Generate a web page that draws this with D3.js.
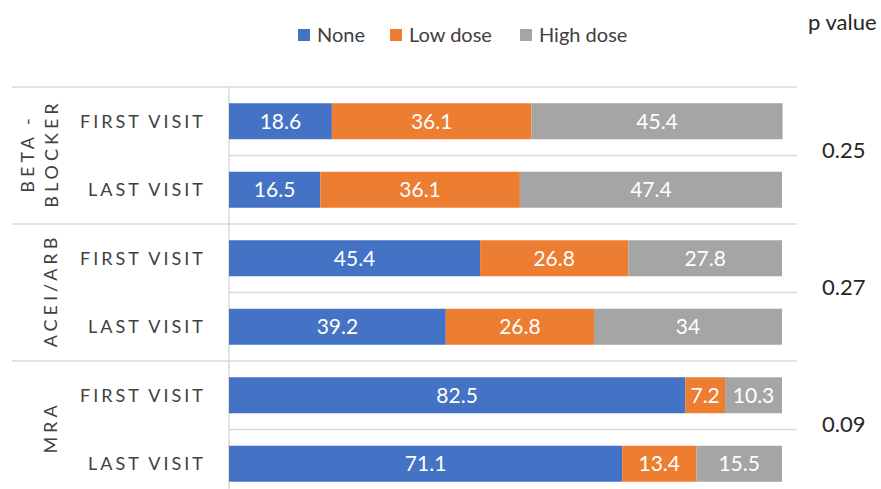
<!DOCTYPE html>
<html>
<head>
<meta charset="utf-8">
<script src="https://cdn.jsdelivr.net/npm/d3@7"></script>
<style>
  html, body { margin: 0; padding: 0; background: #fff; }
  svg { display: block; font-family: Lato, "Open Sans", sans-serif; }
</style>
</head>
<body>
<svg id="chart" width="881" height="489"></svg>
<script>
const groups = ['BETA-BLOCKER', 'ACEI/ARB', 'MRA'];
const groupLines = [['BETA -', 'BLOCKER'], ['ACEI/ARB'], ['MRA']];
const visits = ['FIRST VISIT', 'LAST VISIT'];
const series = ['None', 'Low dose', 'High dose'];
const noneVals = [18.6, 16.5, 45.4, 39.2, 82.5, 71.1];
const lowVals = [36.1, 36.1, 26.8, 26.8, 7.2, 13.4];
const highVals = [45.4, 47.4, 27.8, 34, 10.3, 15.5];
const pValues = ['0.25', '0.27', '0.09'];
const colors = ['#4472C4', '#ED7D31', '#A5A5A5'];

const svg = d3.select('#chart');
const chartH = 489;

// one row per group/visit
const rows = [];
groups.forEach((g, gi) => visits.forEach((v, vi) => {
  const i = gi * 2 + vi;
  rows.push({ key: g + '|' + v, group: g, gi, visit: v, vals: [noneVals[i], lowVals[i], highVals[i]] });
}));

const plotLeft = 229, plotRight = 797, plotTop = 87;
const y = d3.scaleBand().domain(rows.map(r => r.key)).range([plotTop, plotTop + 68.5 * rows.length]);
const x = d3.scaleLinear().domain([0, 100]).range([plotLeft, 782]);
const barH = 36;

// gridlines between rows
const grid = svg.append('g');
rows.forEach((r, i) => {
  const yy = y(r.key);
  grid.append('line')
    .attr('x1', i % 2 === 0 ? 12 : plotLeft).attr('x2', plotRight)
    .attr('y1', yy).attr('y2', yy)
    .attr('stroke', '#d9d9d9').attr('stroke-width', 1.5);
});
grid.append('line')
  .attr('x1', plotLeft).attr('x2', plotLeft)
  .attr('y1', plotTop).attr('y2', chartH)
  .attr('stroke', '#d9d9d9').attr('stroke-width', 1.5);

// stacked segments
const stack = d3.stack().keys([0, 1, 2]).value((d, k) => d.vals[k]);
const layers = stack(rows);

layers.forEach((layer, k) => {
  const g = svg.append('g');
  g.selectAll('rect').data(layer).join('rect')
    .attr('x', d => x(d[0]))
    .attr('width', d => x(d[1]) - x(d[0]))
    .attr('y', d => y(d.data.key) + (y.bandwidth() - barH) / 2)
    .attr('height', barH)
    .attr('fill', colors[k]);
  g.selectAll('text').data(layer).join('text')
    .attr('x', d => (x(d[0]) + x(d[1])) / 2)
    .attr('y', d => y(d.data.key) + y.bandwidth() / 2)
    .attr('dy', '0.36em')
    .attr('text-anchor', 'middle')
    .attr('fill', '#fff')
    .attr('font-size', 21)
    .text(d => d.data.vals[k]);
});

// visit labels
svg.append('g').selectAll('text').data(rows).join('text')
  .attr('x', 206)
  .attr('y', d => y(d.key) + y.bandwidth() / 2)
  .attr('dy', '0.36em')
  .attr('text-anchor', 'end')
  .attr('font-size', 18)
  .attr('letter-spacing', 3)
  .attr('fill', '#404040')
  .text(d => d.visit);

// group labels (rotated)
groups.forEach((g, gi) => {
  const cy = y(g + '|' + visits[0]) + y.bandwidth();
  const lines = groupLines[gi];
  const t = svg.append('text')
    .attr('transform', `translate(${lines.length === 2 ? 28 : 51},${cy}) rotate(-90)`)
    .attr('text-anchor', 'middle')
    .attr('font-size', 18)
    .attr('letter-spacing', 4)
    .attr('fill', '#404040');
  lines.forEach((ln, li) => {
    t.append('tspan').attr('x', 2).attr('dy', li === 0 ? '0.36em' : '1.3em').text(ln);
  });
});

// p values
svg.append('text')
  .attr('x', 808).attr('y', 30)
  .attr('font-size', 22).attr('fill', '#262626')
  .text('p value');
svg.append('g').selectAll('text').data(pValues).join('text')
  .attr('x', 822)
  .attr('y', (d, gi) => y(groups[gi] + '|' + visits[0]) + y.bandwidth() - 5)
  .attr('dy', '0.36em')
  .attr('font-size', 22).attr('fill', '#262626')
  .text(d => d);

// legend
const legendX = [298, 390, 520];
const legend = svg.append('g');
series.forEach((s, k) => {
  legend.append('rect')
    .attr('x', legendX[k]).attr('y', 29).attr('width', 12).attr('height', 12)
    .attr('fill', colors[k]);
  legend.append('text')
    .attr('x', legendX[k] + 19).attr('y', 35).attr('dy', '0.36em')
    .attr('font-size', 20).attr('fill', '#404040')
    .text(s);
});
</script>
</body>
</html>
